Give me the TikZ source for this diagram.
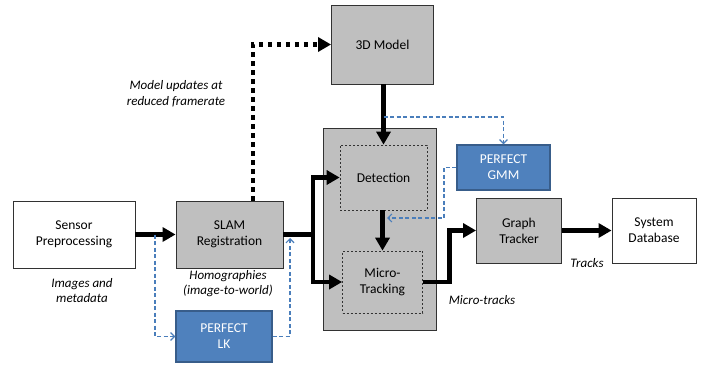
\documentclass[tikz,border=0pt]{standalone}
\usepackage{fontspec}
\setmainfont{Carlito}
\usetikzlibrary{arrows.meta,calc}
\definecolor{boxgrey}{RGB}{191,191,191}
\definecolor{pblue}{RGB}{79,129,189}
\definecolor{pbord}{RGB}{56,93,138}
\definecolor{dblue}{RGB}{74,126,187}
\definecolor{bordc}{RGB}{50,50,50}
\begin{document}
\begin{tikzpicture}[x=1pt,y=-1pt,
  every node/.style={font=\fontsize{13.5}{16}\selectfont, align=center, inner sep=0pt},
  box/.style={draw=bordc, line width=0.9pt, fill=boxgrey},
  wbox/.style={draw=bordc, line width=0.9pt, fill=white},
  dbox/.style={draw=bordc, line width=0.7pt, dash pattern=on 2pt off 2pt, fill=boxgrey},
  bbox/.style={draw=pbord, line width=1.2pt, fill=pblue, text=white},
  lab/.style={font=\fontsize{13}{15.5}\selectfont\itshape},
  thickarrow/.style={line width=4.5pt, -{Triangle[length=13pt,width=14pt]}},
  dotarrow/.style={line width=4.5pt, dash pattern=on 4.5pt off 4.5pt, -{Triangle[length=13pt,width=14pt]}},
  bluearrow/.style={draw=dblue, line width=1.2pt, dash pattern=on 4pt off 2.5pt, -{Straight Barb[length=4pt,width=8pt]}},
  blueline/.style={draw=dblue, line width=1.2pt, dash pattern=on 4pt off 2.5pt}]
\useasboundingbox (0,0) rectangle (708,364);

% container
\node[box, minimum width=113pt, minimum height=202pt] (cont) at (379.5,229) {};

\node[wbox, minimum width=122pt, minimum height=67pt] (sensor) at (74,234.5) {Sensor\\Preprocessing};
\node[box, minimum width=107pt, minimum height=67pt] (slam) at (229.5,234.5) {SLAM\\Registration};
\node[box, minimum width=102pt, minimum height=79pt] (model) at (382.5,44.5) {3D Model};
\node[dbox, minimum width=87pt, minimum height=65pt] (det) at (383.5,177.5) {Detection};
\node[dbox, minimum width=80pt, minimum height=62pt] (micro) at (382.5,282) {Micro-\\Tracking};
\node[bbox, minimum width=93pt, minimum height=45pt] (gmm) at (503.5,167.5) {PERFECT\\GMM};
\node[box, minimum width=85pt, minimum height=65pt] (gt) at (519,230.5) {Graph\\Tracker};
\node[wbox, minimum width=84pt, minimum height=65pt] (db) at (654,230.5) {System\\Database};
\node[bbox, minimum width=96pt, minimum height=51pt] (lk) at (224,336.5) {PERFECT\\LK};

% labels
\node[lab] (l1) at (82,290.5) {Images and\\metadata};
\node[lab] (l2) at (228,283.5) {Homographies\\(image-to-world)};
\node[lab] (l3) at (176,93.5) {Model updates at\\reduced framerate};
\node[lab] (l4) at (482,300) {Micro-tracks};
\node[lab] (l5) at (587,263) {Tracks};

% coordinates
\coordinate (split) at (313,234.5);
\coordinate (dotstart) at ($(slam.north)+(23.5,0)$);
\coordinate (b1) at (383.5,117);
\coordinate (b2) at (444,218);
\coordinate (b3) at (387,218);
\coordinate (b4) at (155,234.5);
\coordinate (b5) at (290,238);

% black arrows
\draw[thickarrow] (sensor.east) -- (slam.west);
\draw[thickarrow] (slam.east) -- (split) |- (det.west);
\draw[thickarrow] (slam.east) -- (split) |- (micro.west);
\draw[thickarrow] (det.north |- model.south) -- (det.north);
\draw[thickarrow] (det.south -| micro.north) -- (micro.north);
\draw[thickarrow] (micro.east) -| ($(micro.east)!.5!(gt.west)$) |- (gt.west);
\draw[thickarrow] (gt.east) -- (db.west);
\draw[dotarrow] (dotstart) |- (model.west);

% blue dashed
\draw[bluearrow] (b1) -| (gmm.north);
\draw[bluearrow] (gmm.west) -| (b2) -- (b3);
\draw[bluearrow] (b4) |- (lk.west);
\draw[bluearrow] (lk.east) -| (b5);
\end{tikzpicture}
\end{document}
